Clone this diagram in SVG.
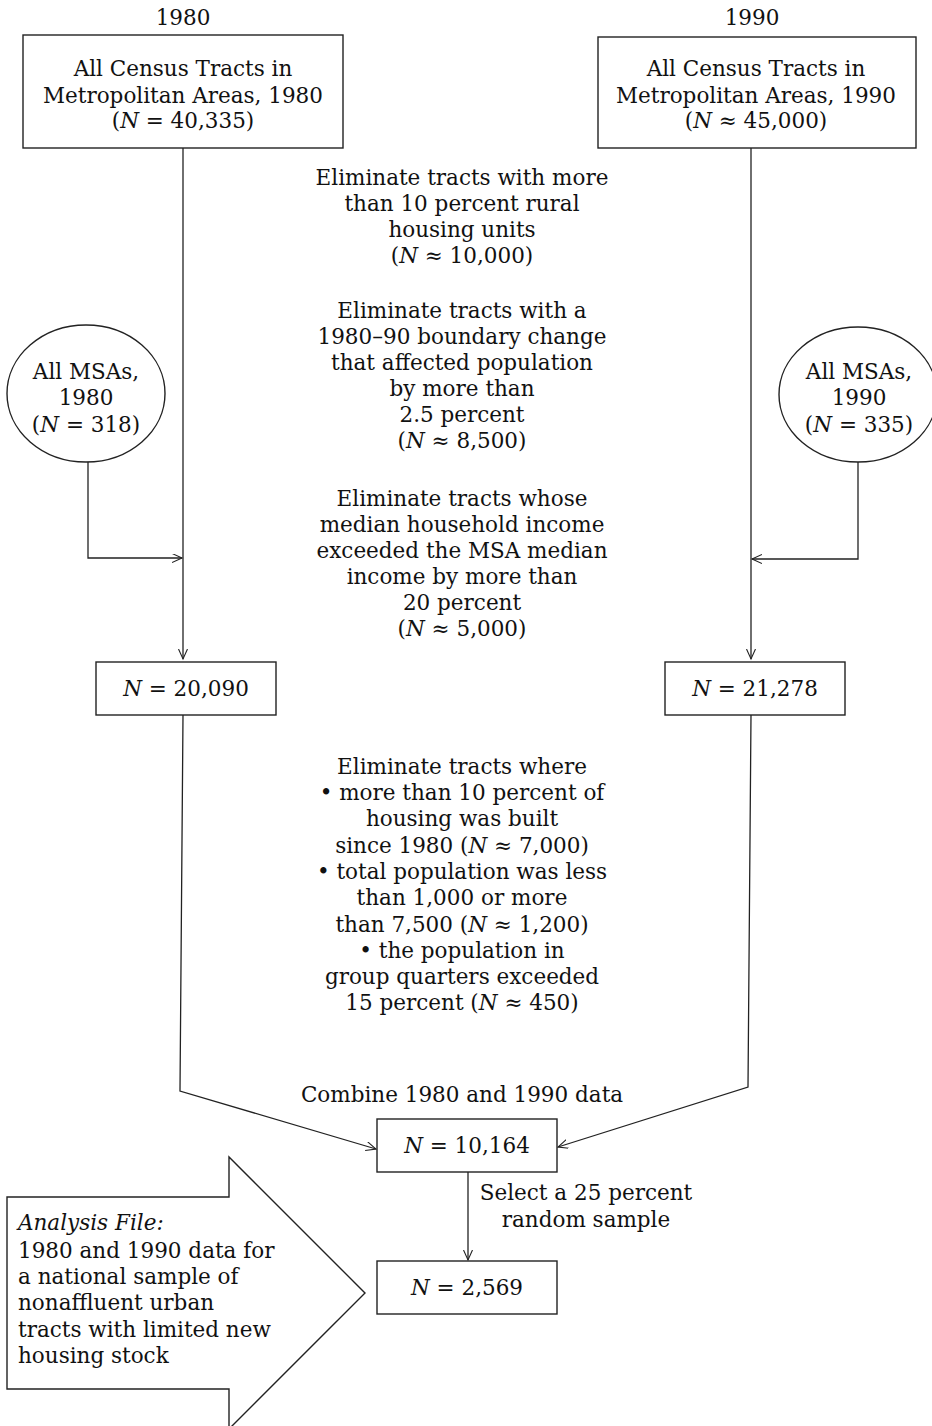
<svg xmlns="http://www.w3.org/2000/svg" width="932" height="1426" viewBox="0 0 932 1426">
  <style>
    text { font-family: "DejaVu Serif", "Liberation Serif", serif; font-size: 21.5px; fill: #111; text-anchor: middle; }
    .it { font-style: italic; }
    .left { text-anchor: start; }
    .shape { fill: #fff; stroke: #222; stroke-width: 1.4; }
    .conn { fill: none; stroke: #222; stroke-width: 1.3; }
  </style>
  <defs>
    <marker id="open-arrow" markerUnits="userSpaceOnUse" markerWidth="12" markerHeight="10" refX="10" refY="4.5" orient="auto">
      <path d="M0,0 L10,4.5 L0,9" fill="none" stroke="#222" stroke-width="1.1"/>
    </marker>
  </defs>

  <!-- column headings -->
  <text x="183" y="25">1980</text>
  <text x="752" y="25">1990</text>

  <!-- connectors -->
  <g id="connectors">
    <path class="conn" d="M183,148 V659" marker-end="url(#open-arrow)"/>
    <path class="conn" d="M88,462 V558 H182" marker-end="url(#open-arrow)"/>
    <path class="conn" d="M751,148 V659" marker-end="url(#open-arrow)"/>
    <path class="conn" d="M858,462 V559 H752" marker-end="url(#open-arrow)"/>
    <path class="conn" d="M183,715 L180,1091 L376,1149" marker-end="url(#open-arrow)"/>
    <path class="conn" d="M751,715 L748,1087 L558,1147" marker-end="url(#open-arrow)"/>
    <path class="conn" d="M468,1172 V1260" marker-end="url(#open-arrow)"/>
  </g>

  <g id="tracts-1980">
    <rect class="shape" x="23" y="35" width="320" height="113"/>
    <text x="183" y="76">All Census Tracts in</text>
    <text x="183" y="103">Metropolitan Areas, 1980</text>
    <text x="183" y="128">(<tspan class="it">N</tspan> = 40,335)</text>
  </g>

  <g id="tracts-1990">
    <rect class="shape" x="598" y="37" width="318" height="111"/>
    <text x="756" y="76">All Census Tracts in</text>
    <text x="756" y="103">Metropolitan Areas, 1990</text>
    <text x="756" y="128">(<tspan class="it">N</tspan> ≈ 45,000)</text>
  </g>

  <g id="step-rural">
    <text x="462" y="185">Eliminate tracts with more</text>
    <text x="462" y="211">than 10 percent rural</text>
    <text x="462" y="237">housing units</text>
    <text x="462" y="263">(<tspan class="it">N</tspan> ≈ 10,000)</text>
  </g>

  <g id="step-boundary">
    <text x="462" y="318">Eliminate tracts with a</text>
    <text x="462" y="344">1980–90 boundary change</text>
    <text x="462" y="370">that affected population</text>
    <text x="462" y="396">by more than</text>
    <text x="462" y="422">2.5 percent</text>
    <text x="462" y="448">(<tspan class="it">N</tspan> ≈ 8,500)</text>
  </g>

  <g id="step-income">
    <text x="462" y="506">Eliminate tracts whose</text>
    <text x="462" y="532">median household income</text>
    <text x="462" y="558">exceeded the MSA median</text>
    <text x="462" y="584">income by more than</text>
    <text x="462" y="610">20 percent</text>
    <text x="462" y="636">(<tspan class="it">N</tspan> ≈ 5,000)</text>
  </g>

  <g id="msa-1980">
    <ellipse class="shape" cx="86" cy="393.5" rx="79" ry="68.5"/>
    <text x="86" y="379">All MSAs,</text>
    <text x="86" y="405">1980</text>
    <text x="86" y="432">(<tspan class="it">N</tspan> = 318)</text>
  </g>

  <g id="msa-1990">
    <ellipse class="shape" cx="858" cy="394.5" rx="79" ry="67.5"/>
    <text x="859" y="379">All MSAs,</text>
    <text x="859" y="405">1990</text>
    <text x="859" y="432">(<tspan class="it">N</tspan> = 335)</text>
  </g>

  <g id="count-1980">
    <rect class="shape" x="96" y="662" width="180" height="53"/>
    <text x="186" y="696"><tspan class="it">N</tspan> = 20,090</text>
  </g>

  <g id="count-1990">
    <rect class="shape" x="665" y="662" width="180" height="53"/>
    <text x="755" y="696"><tspan class="it">N</tspan> =  21,278</text>
  </g>

  <g id="step-stock">
    <text x="462" y="774">Eliminate tracts where</text>
    <text x="462" y="800">• more than 10 percent of</text>
    <text x="462" y="826">housing was built</text>
    <text x="462" y="853">since 1980 (<tspan class="it">N</tspan> ≈ 7,000)</text>
    <text x="462" y="879">• total population was less</text>
    <text x="462" y="905">than 1,000 or more</text>
    <text x="462" y="932">than 7,500 (<tspan class="it">N</tspan> ≈ 1,200)</text>
    <text x="462" y="958">• the population in</text>
    <text x="462" y="984">group quarters exceeded</text>
    <text x="462" y="1010">15 percent (<tspan class="it">N</tspan> ≈ 450)</text>
  </g>

  <text x="462" y="1102">Combine 1980 and 1990 data</text>

  <g id="combined">
    <rect class="shape" x="377" y="1119" width="180" height="53"/>
    <text x="467" y="1153"><tspan class="it">N</tspan> = 10,164</text>
  </g>

  <text x="586" y="1200">Select a 25 percent</text>
  <text x="586" y="1227">random sample</text>

  <g id="sample">
    <rect class="shape" x="377" y="1261" width="180" height="53"/>
    <text x="467" y="1295"><tspan class="it">N</tspan> = 2,569</text>
  </g>

  <g id="analysis-file">
    <polygon class="shape" points="7,1197 229,1197 229,1157 365,1293 229,1429 229,1389 7,1389"/>
    <text class="left it" x="18" y="1230">Analysis File:</text>
    <text class="left" x="18" y="1258">1980 and 1990 data for</text>
    <text class="left" x="18" y="1284">a national sample of</text>
    <text class="left" x="18" y="1310">nonaffluent urban</text>
    <text class="left" x="18" y="1337">tracts with limited new</text>
    <text class="left" x="18" y="1363">housing stock</text>
  </g>
</svg>
